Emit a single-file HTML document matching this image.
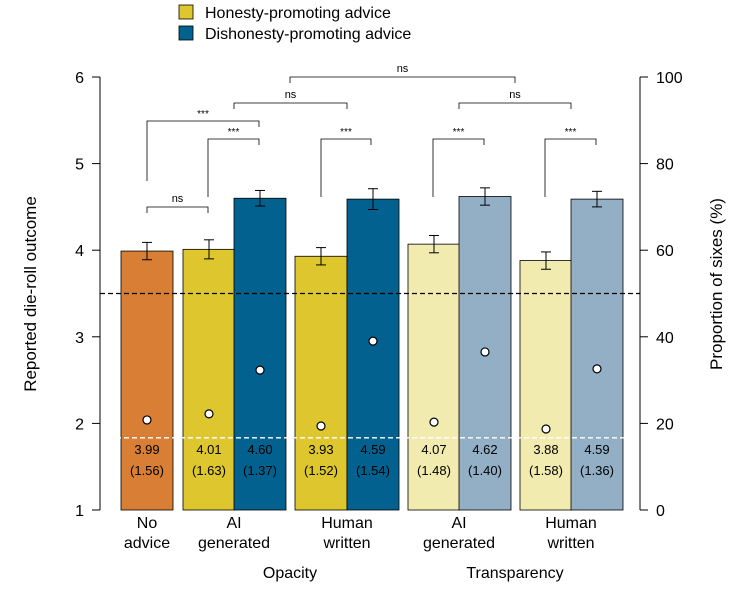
<!DOCTYPE html>
<html><head><meta charset="utf-8">
<style>
body{margin:0;background:#fff;}
svg{display:block;font-family:"Liberation Sans",Arial,sans-serif;}
</style></head>
<body>
<svg id="chart" width="735" height="592" viewBox="0 0 735 592" xmlns="http://www.w3.org/2000/svg"></svg>
<script>
const categories = ["No advice","Opacity AI honesty","Opacity AI dishonesty","Opacity Human honesty","Opacity Human dishonesty","Transparency AI honesty","Transparency AI dishonesty","Transparency Human honesty","Transparency Human dishonesty"];
const means = [3.99,4.01,4.60,3.93,4.59,4.07,4.62,3.88,4.59];
const sds = ["(1.56)","(1.63)","(1.37)","(1.52)","(1.54)","(1.48)","(1.40)","(1.58)","(1.36)"];
const errs = [0.10,0.11,0.09,0.10,0.12,0.10,0.10,0.10,0.09];
const sixes = [20.8,22.2,32.3,19.4,39.0,20.3,36.5,18.7,32.6];
const leftTicks = [1,2,3,4,5,6];
const rightTicks = [0,20,40,60,80,100];
const colors = ["#D97F35","#DDC62E","#02618E","#DDC62E","#02618E","#F1EBB0","#92AFC6","#F1EBB0","#92AFC6"];
const barLeft = [121,183,234,295,347,408,459,520,571];
const barW = 52;

const NS="http://www.w3.org/2000/svg";
const svg=document.getElementById('chart');
const yL=v=>510-(v-1)*86.6;
const yR=p=>510-p*4.33;
function el(tag,attrs,parent){const e=document.createElementNS(NS,tag);for(const k in attrs)e.setAttribute(k,attrs[k]);(parent||svg).appendChild(e);return e;}
function txt(x,y,s,size,anchor,name,extra){const t=el('text',Object.assign({x:x,y:y,'font-size':size,'text-anchor':anchor||'middle',fill:'#000'},extra||{}));t.textContent=s;return t;}

categories.forEach((c,i)=>{
  const b=el('rect',{x:barLeft[i],y:yL(means[i]),width:barW,height:510-yL(means[i]),fill:colors[i],stroke:'#000','stroke-width':0.8});
  
  
});
const l1=el('line',{x1:100,x2:640,y1:yR(50),y2:yR(50),stroke:'#000','stroke-width':1.3,'stroke-dasharray':'5,3'});


const l2=el('line',{x1:100,x2:640,y1:yR(100/6),y2:yR(100/6),stroke:'#fff','stroke-width':1.3,'stroke-dasharray':'5,3'});


categories.forEach((c,i)=>{
  const cx=barLeft[i]+barW/2;
  const g=el('g',{stroke:'#000','stroke-width':1});
  
  
  el('line',{x1:cx,x2:cx,y1:yL(means[i]+errs[i]),y2:yL(means[i]-errs[i])},g);
  el('line',{x1:cx-5,x2:cx+5,y1:yL(means[i]+errs[i]),y2:yL(means[i]+errs[i])},g);
  el('line',{x1:cx-5,x2:cx+5,y1:yL(means[i]-errs[i]),y2:yL(means[i]-errs[i])},g);
  const p=el('circle',{cx:cx,cy:yR(sixes[i]),r:4,fill:'#fff',stroke:'#000','stroke-width':1.2});
  
  
  txt(cx,454,means[i].toFixed(2),13,'middle','mean-label-'+i);
  txt(cx,475,sds[i],13,'middle','sd-label-'+i);
});
const ax=el('g',{stroke:'#000','stroke-width':1});


el('line',{x1:100,x2:100,y1:yL(1),y2:yL(6)},ax);
el('line',{x1:640,x2:640,y1:yR(0),y2:yR(100)},ax);
leftTicks.forEach(v=>{el('line',{x1:92,x2:100,y1:yL(v),y2:yL(v)},ax);txt(84,yL(v)+6,String(v),16,'end','y-left-tick-'+v);});
rightTicks.forEach(v=>{el('line',{x1:640,x2:648,y1:yR(v),y2:yR(v)},ax);txt(656,yR(v)+6,String(v),16,'start','y-right-tick-'+v);});
txt(36,294,'Reported die-roll outcome',17,'middle','y-axis-title',{transform:'rotate(-90 36 294)'});
txt(722,284,'Proportion of sixes (%)',17,'middle','y-axis-right-title',{transform:'rotate(-90 722 284)'});
[[147,'No','advice'],[234,'AI','generated'],[347,'Human','written'],[459,'AI','generated'],[571,'Human','written']].forEach((l,i)=>{
  txt(l[0],528,l[1],16,'middle','x-label-'+i+'-line1');
  txt(l[0],548,l[2],16,'middle','x-label-'+i+'-line2');
});
txt(290,578,'Opacity',16,'middle','group-label-opacity');
txt(515,578,'Transparency',16,'middle','group-label-transparency');
const brackets=[[147,208,207,213,213,'ns'],[208,259,139,197,145,'***'],[147,259,121,181,127,'***'],[234,347,103,109,109,'ns'],[321,371,139,197,145,'***'],[433,484,139,197,145,'***'],[545,596,139,197,145,'***'],[459,571,103,109,109,'ns'],[290,515,77,83,83,'ns']];
brackets.forEach((b,i)=>{
  const g=el('g',{stroke:'#000','stroke-width':0.8,fill:'none'});
  
  
  el('polyline',{points:`${b[0]},${b[3]} ${b[0]},${b[2]} ${b[1]},${b[2]} ${b[1]},${b[4]}`},g);
  txt((b[0]+b[1])/2,b[2]-(b[5]==='ns'?5:4),b[5],b[5]==='ns'?11:10,'middle','significance-label-'+i);
});
const lg=el('g',{});


const s1=el('rect',{x:179,y:5,width:14,height:14,fill:'#DDC62E',stroke:'#000','stroke-width':0.8},lg);


const s2=el('rect',{x:179,y:26,width:14,height:14,fill:'#02618E',stroke:'#000','stroke-width':0.8},lg);


txt(205,18,'Honesty-promoting advice',16,'start','legend-entry-honesty');
txt(205,39,'Dishonesty-promoting advice',16,'start','legend-entry-dishonesty');
</script>
</body></html>
